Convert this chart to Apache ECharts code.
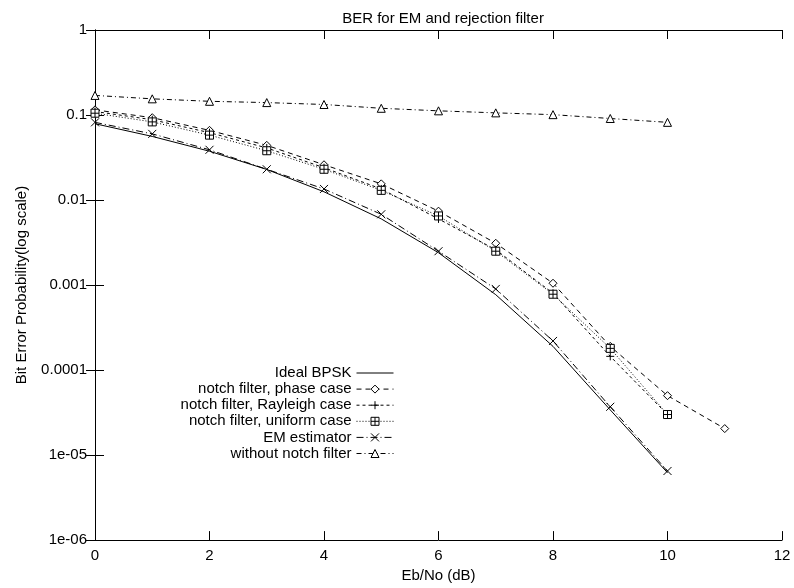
<!DOCTYPE html>
<html><head><meta charset="utf-8">
<script src="https://cdn.jsdelivr.net/npm/echarts@6/dist/echarts.min.js"></script>
<style>html,body{margin:0;padding:0;background:#fff}#c{width:794px;height:588px}</style>
</head><body><div id="c"></div>
<script>
const ebno = [0,1,2,3,4,5,6,7,8,9,10,11];
const idealBPSK = [0.079,0.056,0.0375,0.0229,0.0125,0.006,0.0024,0.00077,0.00019,0.000034,0.0000062];
const phaseCase = [0.115,0.093,0.066,0.044,0.026,0.0155,0.0074,0.0031,0.00105,0.00019,0.00005,0.0000205];
const rayleighCase = [0.11,0.088,0.062,0.041,0.024,0.0135,0.006,0.0026,0.0008,0.000145,0.00003];
const uniformCase = [0.105,0.083,0.058,0.038,0.023,0.013,0.0065,0.0025,0.00078,0.00018,0.00003];
const emEstimator = [0.082,0.06,0.039,0.023,0.0135,0.0068,0.0025,0.0009,0.00022,0.000037,0.0000065];
const withoutNotch = [0.17,0.155,0.145,0.14,0.133,0.12,0.112,0.106,0.101,0.091,0.082];
const yTickValues = [1,0.1,0.01,0.001,0.0001,0.00001,0.000001];
const yTickLabels = ['1','0.1','0.01','0.001','0.0001','1e-05','1e-06'];

const FONT = 'Liberation Sans';
const FS = 15;
function pairs(arr){ return arr.map((v,i)=>[ebno[i], v]); }
const plusPath = 'path://M5,0L5,10M0,5L10,5';
const crossPath = 'path://M0,0L10,10M10,0L0,10';
const boxPlusPath = 'path://M0,0L10,0L10,10L0,10ZM5,0L5,10M0,5L10,5';
const diamondPath = 'path://M5,0L10,5L5,10L0,5Z';
const trianglePath = 'path://M5,0L10,9L0,9Z';

function mk(name, data, dash, symbol, size){
  const hidden = !symbol;
  return {
    name, type:'line', data: pairs(data), symbol: symbol || 'rect', symbolSize: size || 8,
    showSymbol: !hidden, xAxisIndex:0, yAxisIndex:0,
    lineStyle:{color:'#000', width:1, type: dash},
    itemStyle: hidden ? {color:'rgba(0,0,0,0)', borderColor:'rgba(0,0,0,0)', borderWidth:0}
                      : {color:'#fff', borderColor:'#000', borderWidth:1},
    emphasis:{disabled:true}, animation:false, z: 3
  };
}
function fmtY(v){
  for (let i=0;i<yTickValues.length;i++){ if (Math.abs(Math.log10(v)-Math.log10(yTickValues[i]))<1e-6) return yTickLabels[i]; }
  return '';
}
const chart = echarts.init(document.getElementById('c'), null, {renderer:'canvas'});
const axisCommon = {
  axisLine:{show:true, lineStyle:{color:'#000', width:1}},
  splitLine:{show:false}
};
const txt = {fontFamily:FONT, fontSize:FS, color:'#000'};
chart.setOption({
  backgroundColor:'#fff',
  animation:false,
  title:{text:'BER for EM and rejection filter', left:438, top:6, textAlign:'center',
    textStyle:{fontFamily:FONT, fontSize:FS, fontWeight:'normal', color:'#000'}},
  grid:{left:95, right:12, top:30, bottom:44},
  legend:{
    orient:'vertical', right:400, top:365.5, align:'right', padding:0,
    itemWidth:37, itemHeight:10, itemGap:1.1,
    lineStyle:{width:1},
    itemStyle:{borderWidth:1},
    textStyle:{fontFamily:FONT, fontSize:FS, color:'#000', lineHeight:15},
    data:['Ideal BPSK','notch filter, phase case','notch filter, Rayleigh case','notch filter, uniform case','EM estimator','without notch filter']
  },
  xAxis:[
    Object.assign({type:'value', min:0, max:12, interval:2, position:'bottom',
      name:'Eb/No (dB)', nameLocation:'middle', nameGap:23,
      nameTextStyle:{fontFamily:FONT, fontSize:FS, color:'#000'},
      axisTick:{inside:true, length:9, lineStyle:{color:'#000'}},
      axisLabel:{fontFamily:FONT, fontSize:FS, color:'#000', margin:8}}, axisCommon),
    Object.assign({type:'value', min:0, max:12, interval:2, position:'top',
      axisTick:{inside:true, length:9, lineStyle:{color:'#000'}},
      axisLabel:{show:false}}, axisCommon)
  ],
  yAxis:[
    Object.assign({type:'log', min:1e-6, max:1, logBase:10, position:'left',
      name:'Bit Error Probability(log scale)', nameLocation:'middle', nameGap:66,
      nameTextStyle:{fontFamily:FONT, fontSize:FS, color:'#000'},
      axisTick:{inside:true, length:9, lineStyle:{color:'#000'}},
      axisLabel:{fontFamily:FONT, fontSize:FS, color:'#000', margin:8, formatter: fmtY}}, axisCommon),
    Object.assign({type:'log', min:1e-6, max:1, logBase:10, position:'right',
      axisTick:{inside:true, length:9, lineStyle:{color:'#000'}},
      axisLabel:{show:false}}, axisCommon)
  ],
  series:[
    mk('Ideal BPSK', idealBPSK, 'solid', null),
    mk('notch filter, phase case', phaseCase, [5,4], diamondPath, 8),
    mk('notch filter, Rayleigh case', rayleighCase, [3,3], plusPath, 8),
    mk('notch filter, uniform case', uniformCase, [1,2], boxPlusPath, 8),
    mk('EM estimator', emEstimator, [7,3,1,3], crossPath, 8),
    mk('without notch filter', withoutNotch, [5,3,1,3], trianglePath, 8)
  ]
});
</script></body></html>
